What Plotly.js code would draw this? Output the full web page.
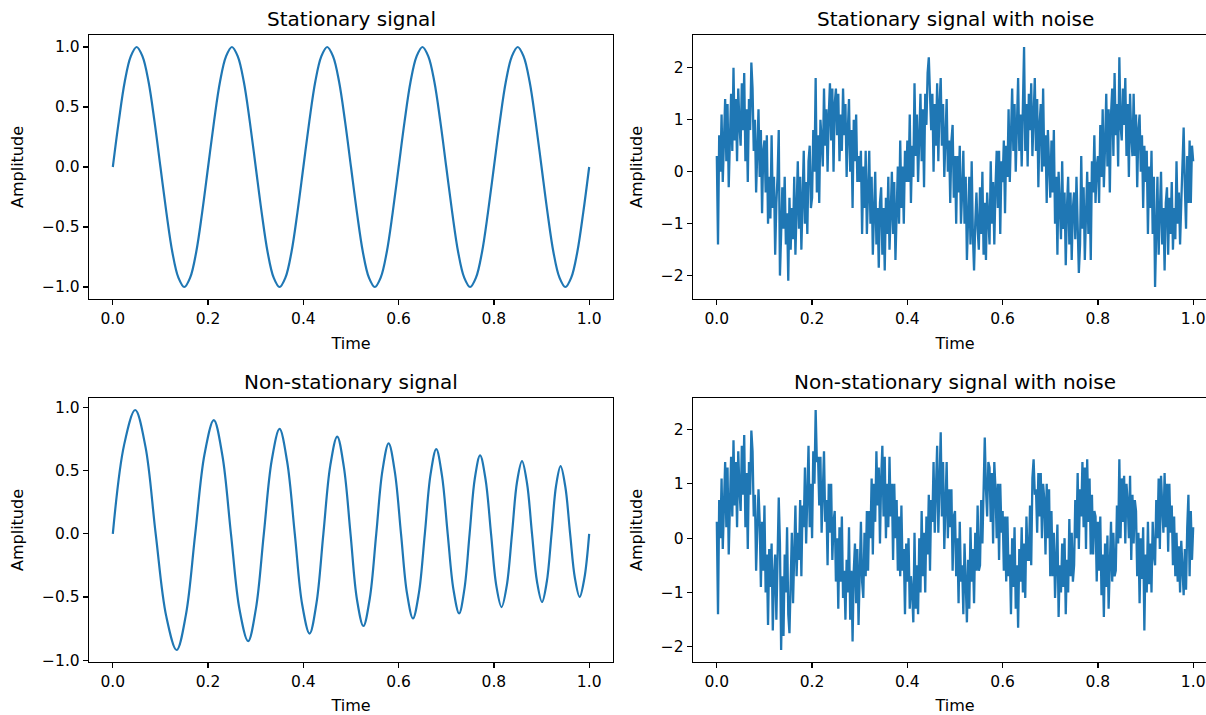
<!DOCTYPE html>
<html>
<head>
<meta charset="utf-8">
<script src="https://cdn.plot.ly/plotly-3.0.1.min.js"></script>
<style>
html,body{margin:0;padding:0;overflow:hidden;background:#fff;}
#chart{width:1218px;height:715px;}
</style>
</head>
<body>
<div id="chart"></div>
<script>
// ---- data ----
var panelTitles = ["Stationary signal", "Stationary signal with noise", "Non-stationary signal", "Non-stationary signal with noise"];
var xTitle = "Time";
var yTitle = "Amplitude";

// Stationary signal, sampled every 0.0125 s from t = 0
var stationaryStart = 0, stationaryStep = 0.0125;
var stationary = [0,0.38,0.71,0.92,1,0.92,0.71,0.38,0,-0.38,-0.71,-0.92,-1,-0.92,-0.71,-0.38,
                  0,0.38,0.71,0.92,1,0.92,0.71,0.38,0,-0.38,-0.71,-0.92,-1,-0.92,-0.71,-0.38,
                  0,0.38,0.71,0.92,1,0.92,0.71,0.38,0,-0.38,-0.71,-0.92,-1,-0.92,-0.71,-0.38,
                  0,0.38,0.71,0.92,1,0.92,0.71,0.38,0,-0.38,-0.71,-0.92,-1,-0.92,-0.71,-0.38,
                  0,0.38,0.71,0.92,1,0.92,0.71,0.38,0,-0.38,-0.71,-0.92,-1,-0.92,-0.71,-0.38,0];

// Non-stationary signal: zero crossings, extrema and points in between
var nonStatTime = [0,0.0235,0.047,0.0685,0.090,0.112,0.134,0.1535,0.173,0.1925,0.212,0.230,0.248,0.266,0.284,0.3005,
  0.317,0.3335,0.350,0.366,0.382,0.3975,0.413,0.4275,0.442,0.4565,0.471,0.485,0.499,0.5125,0.526,0.5395,
  0.553,0.566,0.579,0.592,0.605,0.6175,0.630,0.6425,0.655,0.667,0.679,0.691,0.703,0.715,0.727,0.738,
  0.749,0.760,0.771,0.7825,0.794,0.805,0.816,0.827,0.838,0.8485,0.859,0.8695,0.880,0.8905,0.901,0.911,
  0.921,0.9305,0.940,0.950,0.960,0.970,0.980,0.990,1.0];
var nonStat = [0,0.70,0.98,0.69,0,-0.65,-0.92,-0.64,0,0.63,0.90,0.62,0,-0.60,-0.85,-0.59,
  0,0.58,0.83,0.57,0,-0.56,-0.79,-0.55,0,0.54,0.77,0.53,0,-0.52,-0.73,-0.51,
  0,0.50,0.715,0.49,0,-0.47,-0.67,-0.47,0,0.47,0.67,0.46,0,-0.44,-0.63,-0.44,
  0,0.44,0.62,0.43,0,-0.41,-0.58,-0.41,0,0.41,0.575,0.40,0,-0.38,-0.54,-0.38,
  0,0.38,0.535,0.37,0,-0.35,-0.50,-0.35,0];

// Noisy series, sampled every 0.0025 s from t = 0 (401 values each)
var noisyStart = 0, noisyStep = 0.0025;
var stationaryNoisy = [
  0.3,-1.4,0.7,0.0,1.1,-0.2,0.6,1.4,0.2,1.3,-0.3,1.0,1.5,0.4,2.0,0.6,1.4,0.2,1.6,0.9,
  0.5,1.7,0.8,1.9,0.2,1.2,-0.2,1.4,0.8,2.1,1.6,0.4,1.0,-0.4,0.7,1.2,-0.1,0.8,-0.8,0.4,
  0.6,-0.4,0.7,-1.0,-0.1,-0.9,0.7,-0.7,-0.1,-1.6,-0.6,-0.1,0.8,-2.0,-1.2,-0.3,-1.1,-0.1,-1.4,-0.8,
  -2.1,-0.5,-1.5,-0.7,-1.3,-0.1,-1.6,-0.5,0.2,-1.1,-0.1,-1.5,-0.5,0.4,-1.0,-0.2,-1.2,0.2,0.5,-0.7,
  -0.5,0.8,0.0,1.8,-0.4,0.7,-0.6,1.0,0.6,0.1,1.6,0.5,1.2,0.0,1.1,1.7,0.6,1.6,0.0,1.3,
  1.6,0.7,1.5,0.2,1.1,0.4,1.6,0.7,1.3,-0.1,0.8,1.4,0.0,0.8,-0.7,1.0,0.2,1.1,-0.2,0.3,
  -0.2,0.4,-1.2,0.1,-0.7,0.4,-1.2,-0.1,0.4,-1.0,-0.1,-1.6,-0.7,0.0,-1.4,-0.7,-1.85,-0.6,-0.3,-1.6,
  -0.7,-1.9,-0.5,-1.2,-0.1,-1.5,-0.8,0.0,-1.2,-0.2,-1.7,-0.5,0.1,-1.0,0.6,-0.7,0.1,-1.0,0.4,-0.2,
  0.6,-0.2,1.1,-0.6,0.5,-0.1,1.7,0.3,1.1,-0.2,0.8,1.5,0.2,1.2,-0.3,1.5,0.9,1.9,2.2,1.2,
  0.8,1.5,0.0,1.3,0.5,1.7,0.2,1.3,1.8,0.5,1.3,-0.1,0.7,1.4,0.0,0.6,-0.6,0.6,0.9,-0.5,
  0.3,-1.0,0.3,-0.4,0.5,-1.0,-0.4,0.4,-1.0,-0.1,-1.7,-0.6,-0.1,-1.4,0.2,-1.2,-1.9,-1.0,-0.4,-1.1,
  -1.5,-0.3,-1.2,0.0,-1.6,-0.6,-1.7,-0.4,-0.8,-1.4,0.2,-1.0,-0.2,-1.4,-0.3,0.4,-0.7,0.4,-1.2,0.2,
  -0.2,0.6,-0.8,0.5,-0.1,1.2,-0.2,0.9,1.6,0.4,1.3,0.0,0.9,1.8,0.4,1.1,0.1,1.4,2.4,0.4,
  1.3,0.1,1.5,0.8,1.7,0.3,1.0,1.8,0.4,1.4,-0.3,0.9,1.3,0.0,1.6,0.1,0.7,-0.6,0.8,0.0,
  -0.5,0.6,-0.4,0.8,-1.0,-0.1,-1.6,0.0,-0.6,-1.3,0.2,-1.1,-0.4,-1.8,-0.7,-0.1,-1.4,-0.4,-1.7,-0.7,
  -0.4,-1.3,-0.1,-1.0,-1.95,-1.4,0.3,-1.1,-0.3,-1.7,-0.6,0.0,-1.2,-0.2,-1.7,0.2,-0.4,0.7,-0.6,0.1,
  0.3,-0.6,0.9,-0.1,1.2,-0.3,0.5,1.5,0.1,1.2,-0.4,1.1,1.6,0.3,1.9,0.7,1.3,0.1,2.2,0.9,
  0.6,1.6,0.9,1.8,0.3,1.3,-0.1,1.5,0.7,0.3,1.5,0.3,1.1,-0.3,0.8,1.1,0.0,0.7,-0.7,0.5,
  -0.2,0.4,-1.2,0.1,-0.7,0.4,-1.2,-0.1,-2.22,-1.0,-0.1,-1.6,-0.7,0.0,-1.4,-0.7,-1.9,-0.6,-0.3,-1.6,
  -0.5,-1.2,-0.2,-1.5,-0.7,-1.3,0.2,-1.0,-0.4,-1.4,-0.6,0.0,0.85,-0.3,-1.1,0.3,-0.6,0.6,-0.6,0.5,
  0.2];
var nonStatNoisy = [
  0.3,-1.4,0.7,0.0,1.1,-0.2,0.6,1.4,0.2,1.3,-0.3,1.0,1.5,0.4,1.8,0.6,1.4,0.2,1.6,0.9,
  0.5,1.7,0.8,1.9,0.2,1.2,-0.2,1.4,0.8,1.98,1.6,0.4,0.8,-0.6,0.4,0.9,
  0.3,-0.9,0.3,-0.6,0.6,-1.0,-0.3,-1.6,-0.2,-0.9,-0.1,-1.7,-0.7,-0.3,-1.5,-0.6,0.75,-0.1,-2.06,-0.7,-1.8,-0.3,-1.0,0.2,-1.4,-1.75,-0.9,0.1,-1.2,0.0,0.6,-0.7,0.1,
  -0.4,0.7,-0.7,0.6,0.2,1.3,-0.1,1.0,1.7,0.2,1.0,0.0,1.6,1.0,2.36,1.4,1.5,0.6,1.5,0.1,1.1,1.6,0.3,0.7,-0.5,1.0,0.1,1.0,-0.4,0.3,
  0.5,-0.8,0.0,-1.3,0.2,-0.8,0.4,-1.1,-0.6,-1.5,-0.4,-1.0,0.2,-1.5,-0.6,-1.9,-0.6,-0.1,-1.2,-0.2,-1.6,-0.5,0.3,-0.8,-1.1,0.1,-0.7,0.5,
  -0.6,0.5,0.0,1.1,-0.3,1.0,0.3,1.6,0.6,1.3,-0.1,1.1,1.7,0.4,1.5,0.0,1.0,0.2,1.5,0.4,1.0,-0.4,1.0,0.0,0.7,-0.6,
  0.4,-0.7,0.6,-0.6,-0.2,-1.4,-0.1,-0.8,0.0,-1.3,-0.7,-1.0,-1.55,0.1,-1.3,-0.5,-1.4,0.0,-1.0,0.5,-0.7,0.1,-1.0,0.4,
  -0.3,0.8,-0.6,0.7,0.3,1.4,0.1,0.9,1.7,0.1,1.3,1.95,0.4,1.4,-0.2,0.9,1.4,0.0,0.9,0.2,0.9,-0.6,0.4,
  0.5,-0.7,0.0,-1.2,0.3,-0.8,-0.5,-1.4,-0.1,-1.1,-1.55,-0.4,-1.3,0.2,-0.8,-0.2,-1.2,0.1,-0.6,0.6,-0.6,
  -0.5,0.7,-0.1,1.2,1.85,0.9,0.4,1.4,1.3,0.3,1.2,-0.1,1.4,0.9,0.0,1.0,-0.4,1.0,0.1,0.5,-0.6,
  0.4,-0.8,0.4,-0.7,-0.3,-1.4,0.0,-0.9,0.2,-1.3,-0.5,-1.65,-0.2,-0.8,0.2,-1.0,-0.1,-1.1,0.4,-0.4,
  -0.4,0.6,-0.5,1.1,1.45,0.8,0.9,0.1,1.2,0.4,1.2,0.0,1.0,0.7,-0.3,1.0,0.0,0.9,-0.7,
  0.5,-0.7,0.1,-1.1,-0.2,0.25,-1.45,-0.5,-1.0,-0.1,-0.9,0.0,-1.4,-0.4,-1.0,0.35,-0.7,0.1,-0.8,
  -0.5,0.7,0.0,1.2,-0.2,0.9,0.4,1.4,0.2,1.3,-0.2,1.45,0.3,1.1,-0.3,0.8,-0.3,0.5,
  0.4,-0.8,0.3,-0.6,0.4,-1.05,-0.3,-1.45,-0.1,-0.9,0.05,-1.3,-0.35,0.3,-0.8,0.1,-0.7,
  -0.6,0.6,-0.1,1.45,0.0,1.1,0.3,1.15,-0.1,1.0,0.65,0.0,1.15,-0.4,0.8,-0.1,0.7,
  0.5,-0.7,0.1,-1.2,0.0,-0.75,0.2,-1.7,-0.3,-1.0,0.3,-0.85,-0.1,-1.0,0.3,-0.3,
  -0.5,0.7,0.0,1.1,-0.2,1.15,0.6,0.1,1.2,0.2,1.0,-0.25,1.0,0.1,0.6,-0.5,
  0.4,-0.7,0.1,-0.8,-0.15,-1.0,-0.05,-0.7,-1.05,-0.2,-0.95,0.2,0.8,-0.7,0.5,-0.4,
  0.2];

var xTickVals = [0, 0.2, 0.4, 0.6, 0.8, 1.0];
var yTickValsSmall = [-1, -0.5, 0, 0.5, 1];
var yTickValsBig = [-2, -1, 0, 1, 2];

// ---- layout geometry (paper 1218 x 715 px, window shows 1206 px) ----
var W = 1218, H = 715;
var colL = [89 / W, 613 / W], colR = [693 / W, 1217 / W];
var rowT = [1 - 299 / H, 1 - 35 / H], rowB = [1 - 662 / H, 1 - 398 / H];
var FONT = "DejaVu Sans, Verdana, sans-serif";
var TICK_SIZE = 15.5, LABEL_SIZE = 16, TITLE_SIZE = 20;
var lineColor = "#1f77b4";

function xAx(domain, anchor) {
  return {
    domain: domain, anchor: anchor, range: [-0.05, 1.05],
    tickvals: xTickVals, tickformat: ".1f",
    showgrid: false, zeroline: false, showline: true, mirror: true,
    linecolor: "#000", linewidth: 1.2, ticks: "outside", ticklen: 5, tickwidth: 1.2, tickcolor: "#000",
    tickfont: {family: FONT, size: TICK_SIZE, color: "#000"},
    title: {text: xTitle, font: {family: FONT, size: LABEL_SIZE, color: "#000"}, standoff: 11}
  };
}
function yAx(domain, anchor, range, vals, fmt) {
  return {
    domain: domain, anchor: anchor, range: range,
    tickvals: vals, tickformat: fmt,
    showgrid: false, zeroline: false, showline: true, mirror: true,
    linecolor: "#000", linewidth: 1.2, ticks: "outside", ticklen: 5, tickwidth: 1.2, tickcolor: "#000",
    tickfont: {family: FONT, size: TICK_SIZE, color: "#000"},
    title: {text: yTitle, font: {family: FONT, size: LABEL_SIZE, color: "#000"}, standoff: 14}
  };
}

var common = {type: "scatter", mode: "lines", hoverinfo: "skip", showlegend: false};
var traces = [
  Object.assign({}, common, {y: stationary, x0: stationaryStart, dx: stationaryStep, xaxis: "x", yaxis: "y",
    line: {color: lineColor, width: 2.2, shape: "spline", smoothing: 1}}),
  Object.assign({}, common, {y: stationaryNoisy, x0: noisyStart, dx: noisyStep, xaxis: "x2", yaxis: "y2",
    line: {color: lineColor, width: 2.3}}),
  Object.assign({}, common, {x: nonStatTime, y: nonStat, xaxis: "x3", yaxis: "y3",
    line: {color: lineColor, width: 2.2, shape: "spline", smoothing: 1}}),
  Object.assign({}, common, {y: nonStatNoisy, x0: noisyStart, dx: noisyStep, xaxis: "x4", yaxis: "y4",
    line: {color: lineColor, width: 2.3}})
];

function titleAnn(text, dom, rowDom) {
  return {text: text, xref: "paper", yref: "paper", x: (dom[0] + dom[1]) / 2, y: rowDom[1],
    xanchor: "center", yanchor: "middle", yshift: 16, showarrow: false,
    font: {family: FONT, size: TITLE_SIZE, color: "#000"}};
}

var layout = {
  width: W, height: H,
  margin: {l: 0, r: 0, t: 0, b: 0, pad: 0},
  paper_bgcolor: "#fff", plot_bgcolor: "#fff",
  font: {family: FONT, color: "#000"},
  xaxis: xAx(colL, "y"),
  yaxis: yAx(rowT, "x", [-1.1, 1.1], yTickValsSmall, ".1f"),
  xaxis2: xAx(colR, "y2"),
  yaxis2: yAx(rowT, "x2", [-2.45, 2.63], yTickValsBig, "d"),
  xaxis3: xAx(colL, "y3"),
  yaxis3: yAx(rowB, "x3", [-1.015, 1.075], yTickValsSmall, ".1f"),
  xaxis4: xAx(colR, "y4"),
  yaxis4: yAx(rowB, "x4", [-2.28, 2.58], yTickValsBig, "d"),
  annotations: [
    titleAnn(panelTitles[0], colL, rowT),
    titleAnn(panelTitles[1], colR, rowT),
    titleAnn(panelTitles[2], colL, rowB),
    titleAnn(panelTitles[3], colR, rowB)
  ]
};

Plotly.newPlot("chart", traces, layout, {displayModeBar: false, staticPlot: true});
</script>
</body>
</html>
